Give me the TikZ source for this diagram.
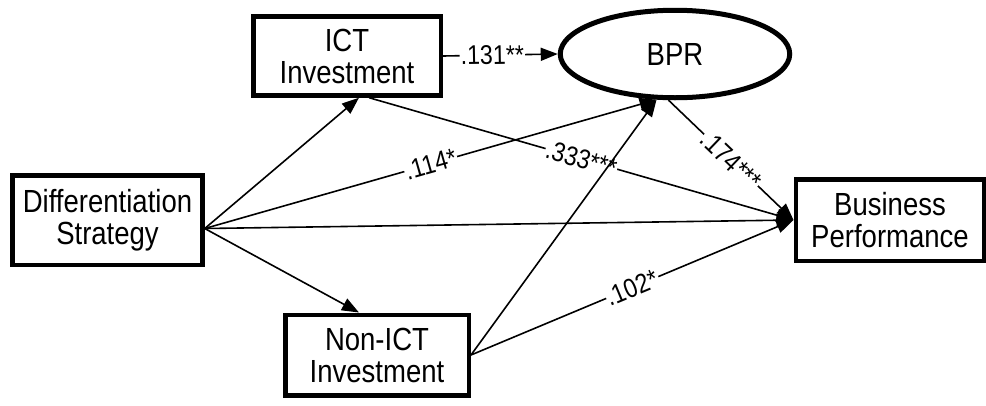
\documentclass[tikz,border=0pt]{standalone}
\usepackage{fontspec}
\setmainfont{Liberation Sans}[FakeStretch=0.86]
\usetikzlibrary{arrows.meta, shapes.geometric}

\begin{document}
\begin{tikzpicture}[
    x=1pt, y=-1pt,
    construct/.style={draw, rectangle, line width=4.5pt, inner sep=0pt, align=center, font=\fontsize{32}{32}\selectfont},
    latent/.style={draw, ellipse, line width=5pt, inner sep=0pt, font=\fontsize{32}{32}\selectfont},
    effect/.style={line width=1.6pt, -{Triangle[length=17pt, width=13pt]}},
    coef/.style={fill=white, inner sep=1pt, sloped, font=\fontsize{27}{27}\selectfont}
]
    \useasboundingbox (0,0) rectangle (986,405);

    % Constructs
    \node[construct, minimum width=190pt, minimum height=89.5pt] (diff) at (107.5, 220) {Differentiation\\Strategy};
    \node[construct, minimum width=187.5pt, minimum height=79pt] (ict) at (347, 56) {ICT\\Investment};
    \node[construct, minimum width=183.5pt, minimum height=80.5pt] (nonict) at (377, 355) {Non-ICT\\Investment};
    \node[latent, minimum width=229.5pt, minimum height=87.5pt] (bpr) at (675, 54) {BPR};
    \node[construct, minimum width=188.5pt, minimum height=81.5pt] (bp) at (890, 220) {Business\\Performance};

    % Paths
    \draw[effect] (diff.-5) -- (ict.-74);
    \draw[effect] (diff.-5) -- (nonict.113);
    \draw[effect] (diff.-5) -- (bpr.248) node[coef, midway] {.114*};
    \draw[effect] (diff.-5) -- (bp.west);
    \draw[effect] (ict.east) -- (bpr.west) node[coef, pos=0.43] {.131**};
    \draw[effect] (ict.-62) -- (bp.west) node[coef, midway] {.333***};
    \draw[effect] (bpr.262) -- (bp.west) node[coef, midway] {.174***};
    \draw[effect] (nonict.east) -- (bpr.248);
    \draw[effect] (nonict.east) -- (bp.west) node[coef, midway] {.102*};

\end{tikzpicture}
\end{document}
